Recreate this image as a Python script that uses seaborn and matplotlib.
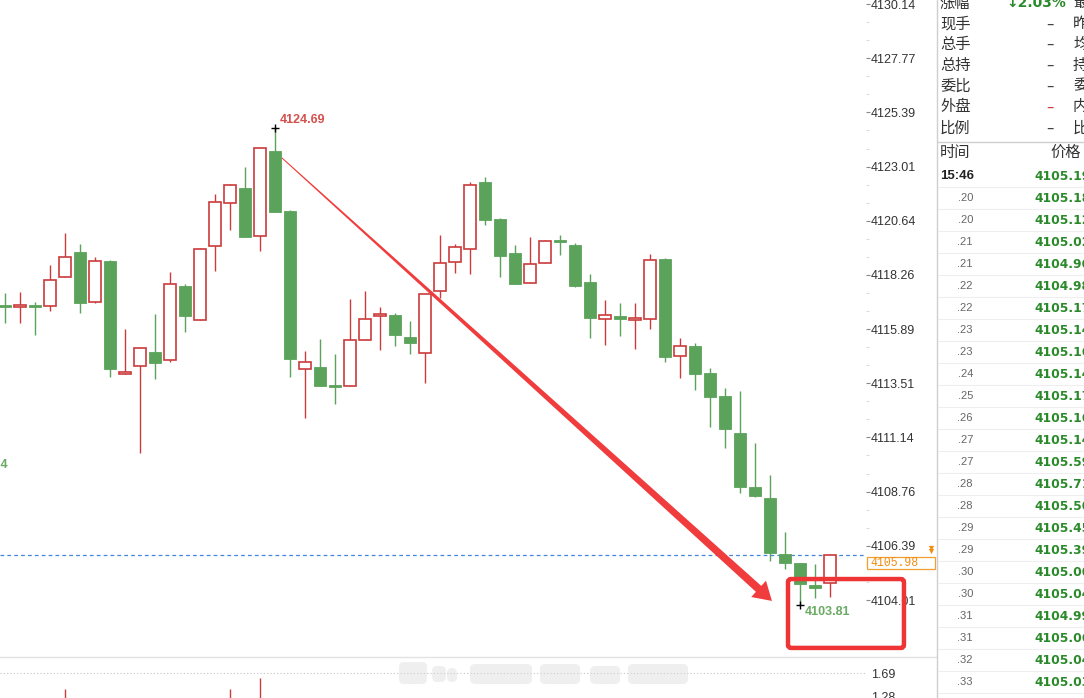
import numpy as np
import matplotlib
matplotlib.use("Agg")
import matplotlib.pyplot as plt
from matplotlib.patches import Polygon, FancyBboxPatch, Rectangle
import seaborn as sns

# candle data (one candle per bar)
opens = [4116.90, 4116.85, 4116.90, 4116.89, 4118.16, 4119.27, 4117.09, 4118.87, 4113.91, 4114.26,
         4114.87, 4114.52, 4117.78, 4116.27, 4119.52, 4121.40, 4122.07, 4119.96, 4123.70, 4121.05,
         4114.13, 4114.23, 4113.37, 4113.38, 4115.40, 4116.45, 4116.49, 4115.54, 4114.83, 4117.54,
         4118.82, 4119.39, 4122.32, 4120.70, 4119.21, 4117.90, 4118.77, 4119.74, 4119.56, 4117.95,
         4116.32, 4116.45, 4116.30, 4116.32, 4118.96, 4114.70, 4115.13, 4113.96, 4112.95, 4111.33,
         4108.97, 4108.48, 4106.03, 4105.65, 4104.66, 4104.74]
closes = [4116.85, 4116.90, 4116.85, 4118.03, 4119.04, 4117.04, 4118.86, 4114.15, 4114.02, 4115.05,
          4114.41, 4117.85, 4116.47, 4119.39, 4121.45, 4122.19, 4119.94, 4123.81, 4121.03, 4114.56,
          4114.46, 4113.41, 4113.33, 4115.40, 4116.32, 4116.54, 4115.64, 4115.26, 4117.41, 4118.77,
          4119.47, 4122.20, 4120.68, 4119.11, 4117.85, 4118.73, 4119.75, 4119.70, 4117.79, 4116.39,
          4116.49, 4116.32, 4116.34, 4118.90, 4114.65, 4115.13, 4113.93, 4112.92, 4111.52, 4108.98,
          4108.57, 4106.06, 4105.62, 4104.70, 4104.55, 4105.98]
highs = [4117.47, 4117.51, 4117.08, 4118.70, 4120.09, 4119.62, 4119.04, 4118.92, 4115.88, 4115.09,
         4116.56, 4118.38, 4117.85, 4119.44, 4121.81, 4122.25, 4122.99, 4123.84, 4124.69, 4121.11,
         4114.94, 4115.45, 4114.80, 4117.22, 4117.54, 4116.87, 4116.58, 4116.24, 4117.41, 4120.01,
         4119.62, 4122.32, 4122.56, 4120.74, 4119.57, 4119.91, 4119.80, 4120.00, 4119.68, 4118.30,
         4117.16, 4117.03, 4117.03, 4119.17, 4119.02, 4115.48, 4115.26, 4114.18, 4113.29, 4113.16,
         4110.88, 4109.49, 4106.99, 4105.65, 4105.58, 4106.02]
lows = [4116.15, 4116.15, 4115.63, 4116.69, 4118.16, 4116.61, 4117.02, 4113.80, 4113.91, 4110.44,
        4113.69, 4114.46, 4115.77, 4116.27, 4118.45, 4120.22, 4119.94, 4119.32, 4121.03, 4113.77,
        4112.00, 4113.41, 4112.59, 4113.38, 4115.40, 4114.97, 4115.16, 4114.78, 4113.54, 4117.24,
        4118.36, 4118.32, 4120.46, 4118.18, 4117.85, 4117.90, 4118.77, 4119.12, 4117.75, 4115.51,
        4115.18, 4115.60, 4115.00, 4115.91, 4114.46, 4113.73, 4113.23, 4111.61, 4110.69, 4108.72,
        4108.54, 4105.71, 4105.38, 4103.81, 4104.09, 4104.16]

price_ticks = [4130.14, 4127.77, 4125.39, 4123.01, 4120.64, 4118.26, 4115.89,
               4113.51, 4111.14, 4108.76, 4106.39, 4104.01]
last_price = 4105.98
hi_idx, hi_val = 18, 4124.69
lo_idx, lo_val = 53, 4103.81

# lower indicator panel
sub_ticks = [1.69, 1.28]
sub_idx = [4, 15, 17]
sub_vals = [1.42, 1.42, 1.60]

# quote panel
quote_names = ["涨幅", "现手", "总手", "总持", "委比", "外盘", "比例"]
quote_vals = ["↓2.03%", "–", "–", "–", "–", "–", "–"]
quote_more = ["最", "昨", "均", "持", "委", "内", "比"]
tick_times = ["15:46", ".20", ".20", ".21", ".21", ".22", ".22", ".23", ".23", ".24", ".25", ".26",
              ".27", ".27", ".28", ".28", ".29", ".29", ".30", ".30", ".31", ".31", ".32", ".33"]
tick_prices = ["4105.19", "4105.18", "4105.12", "4105.02", "4104.96", "4104.98", "4105.17", "4105.14",
               "4105.16", "4105.14", "4105.17", "4105.16", "4105.14", "4105.59", "4105.71", "4105.50",
               "4105.45", "4105.39", "4105.00", "4105.04", "4104.99", "4105.06", "4105.04", "4105.03"]

sns.set_style("white")
plt.rcParams['font.family'] = ['Liberation Sans', 'Noto Sans CJK SC', 'DejaVu Sans']
cjk = ['Noto Sans CJK SC', 'DejaVu Sans']

GREEN = "#5ba35b"
RED = "#cc3b3b"
W, H = 1084, 698

fig = plt.figure(figsize=(W / 100, H / 100), dpi=100)
ax = fig.add_axes([0, 42 / H, 866 / W, 656 / H])
ax_low = fig.add_axes([0, 0, 866 / W, 42 / H])

x = np.arange(len(opens))
o = np.array(opens)
c = np.array(closes)
up = c >= o
cols = np.where(up, RED, GREEN)

ax.vlines(x, lows, highs, colors=cols, linewidth=1, zorder=2)
bottom = np.minimum(o, c)
height = np.maximum(np.abs(c - o), 0.09)
ax.bar(x[up], height[up], bottom=bottom[up], width=0.8, color="white",
       edgecolor=RED, linewidth=1.2, zorder=3)
ax.bar(x[~up], height[~up], bottom=bottom[~up], width=0.8, color=GREEN,
       edgecolor=GREEN, linewidth=0.6, zorder=3)

sns.scatterplot(x=[hi_idx, lo_idx], y=[hi_val, lo_val], marker="+", color="black",
                s=40, linewidth=1, ax=ax, zorder=5)
ax.annotate(f"{hi_val:.2f}", (hi_idx, hi_val), xytext=(5, 8), textcoords="offset pixels",
            color="#d4504c", fontsize=9, fontweight="bold", va="center")
ax.annotate(f"{lo_val:.2f}", (lo_idx, lo_val), xytext=(5, -7), textcoords="offset pixels",
            color="#6aaa64", fontsize=9, fontweight="bold", va="center")
ax.text(0.23, 4109.93, "4109.64", color="#6aaa64", fontsize=9, fontweight="bold",
        ha="right", va="center", clip_on=True)

ax.axhline(last_price, color="#3f86dc", linestyle=(0, (3, 2.5)), linewidth=0.9)

ax.set_xlim(-5 / 15, 861 / 15)
ax.set_ylim(4130.14 - 652 / 22.81, 4130.14 + 4 / 22.81)
ax.yaxis.tick_right()
ax.set_yticks(price_ticks)
ax.set_yticklabels([f"{v:.2f}" for v in price_ticks])
minor = []
for a, b in zip(price_ticks[:-1], price_ticks[1:]):
    minor += list(np.linspace(a, b, 4)[1:-1])
ax.set_yticks(minor, minor=True)
ax.tick_params(axis="y", which="major", length=3, width=0.8, color="#888888",
               labelsize=9, labelcolor="#333333", pad=0.5)
ax.tick_params(axis="y", which="minor", length=2.5, width=0.6, color="#d4d4d4")
ax.set_xticks([])
for s in ax.spines.values():
    s.set_visible(False)

# lower panel
ax_low.vlines(sub_idx, 1.2, sub_vals, colors=RED, linewidth=1)
ax_low.axhline(1.69, color="#c4c4c4", linestyle=(0, (1, 2)), linewidth=0.8)
ax_low.set_xlim(ax.get_xlim())
ax_low.set_ylim(1.28 - 1 / 58.5, 1.69 + 17 / 58.5)
ax_low.yaxis.tick_right()
ax_low.set_yticks(sub_ticks)
ax_low.set_yticklabels([f"{v:.2f}" for v in sub_ticks])
ax_low.tick_params(axis="y", length=0, labelsize=9, labelcolor="#333333", pad=4)
ax_low.set_xticks([])
for s in ax_low.spines.values():
    s.set_visible(False)

# overlay in pixel space for drawings and the side panel
ov = fig.add_axes([0, 0, 1, 1], zorder=10)
ov.set_xlim(0, W)
ov.set_ylim(H, 0)
ov.axis("off")
ov.patch.set_alpha(0)


def to_px(xd, yd):
    return ov.transData.inverted().transform(ax.transData.transform((xd, yd)))


# hand drawn trend arrow
s = to_px(18.45, 4123.40)
t = to_px(51.13, 4103.97)
d = (t - s) / np.hypot(*(t - s))
n = np.array([-d[1], d[0]])
b = t - d * 18
ov.add_patch(Polygon([s + n * 0.5, b + n * 4, b + n * 11, t, b - n * 11, b - n * 4, s - n * 0.5],
                     closed=True, facecolor="#f03c3c", edgecolor="none"))

# red box round the low
p0 = to_px(52.2, 4104.93)
p1 = to_px(59.93, 4101.91)
ov.add_patch(FancyBboxPatch((p0[0], p0[1]), p1[0] - p0[0], p1[1] - p0[1],
                            boxstyle="round,pad=0,rounding_size=3", fill=False,
                            edgecolor="#ee3434", linewidth=3.2))

# last price tag
ly = to_px(0, last_price)[1]
ov.add_patch(Rectangle((867, ly + 1.5), 68, 12, facecolor="white", edgecolor="#f0a030", linewidth=0.9))
ov.text(870, ly + 7.8, f"{last_price:.2f}", family="Liberation Mono", fontsize=8.3,
        color="#f08c10", va="center", ha="left")
ov.scatter([931, 931], [ly - 7.5, ly - 4], marker="v", s=14, color="#f08c10", linewidths=0)

# faint blurred watermark
for x0, w, y0, h in [(399, 28, 662, 22), (432, 14, 666, 16), (447, 10, 668, 14),
                     (470, 62, 664, 20), (540, 40, 664, 20), (590, 30, 666, 18), (628, 60, 664, 20)]:
    ov.add_patch(FancyBboxPatch((x0, y0), w, h, boxstyle="round,pad=0,rounding_size=5",
                                facecolor="#d9d9d9", alpha=0.4, edgecolor="none"))

# panel rules
ov.plot([0, 937], [656.5, 656.5], color="#e2e2e2", linewidth=1)
ov.plot([937, 937], [0, H], color="#cfcfcf", linewidth=1)
ov.plot([937, W], [141.5, 141.5], color="#cfcfcf", linewidth=1)

for i, (nm, v, m) in enumerate(zip(quote_names, quote_vals, quote_more)):
    y = 3 + 20.8 * i
    ov.text(940, y, nm, family=cjk, fontsize=11, color="#333333", va="center")
    if i == 0:
        ov.text(1006, y, v, family="DejaVu Sans", fontsize=10, fontweight="bold",
                color="#2a8a2a", va="center")
    else:
        ov.text(1050, y, v, family="DejaVu Sans", fontsize=10.5,
                color="#d04040" if nm == "外盘" else "#444444", va="center", ha="center")
    ov.text(1073, y, m, family=cjk, fontsize=11, color="#333333", va="center")

ov.text(940, 152, "时间", family=cjk, fontsize=11, color="#333333", va="center")
ov.text(1050, 152, "价格", family=cjk, fontsize=11, color="#333333", va="center")

for i, (tm, pr) in enumerate(zip(tick_times, tick_prices)):
    y = 176 + 22 * i
    if i == 0:
        ov.text(940, y, tm, fontsize=9.5, fontweight="bold", color="#222222", va="center")
    else:
        ov.text(973, y, tm, fontsize=8, color="#666666", va="center", ha="right")
    ov.text(1034, y, pr, family="DejaVu Sans", fontsize=8.8, fontweight="bold",
            color="#2a8a2a", va="center")
    ov.plot([938, W], [y + 11, y + 11], color="#eeeeee", linewidth=0.8)

fig.savefig("out.png", dpi=100)
